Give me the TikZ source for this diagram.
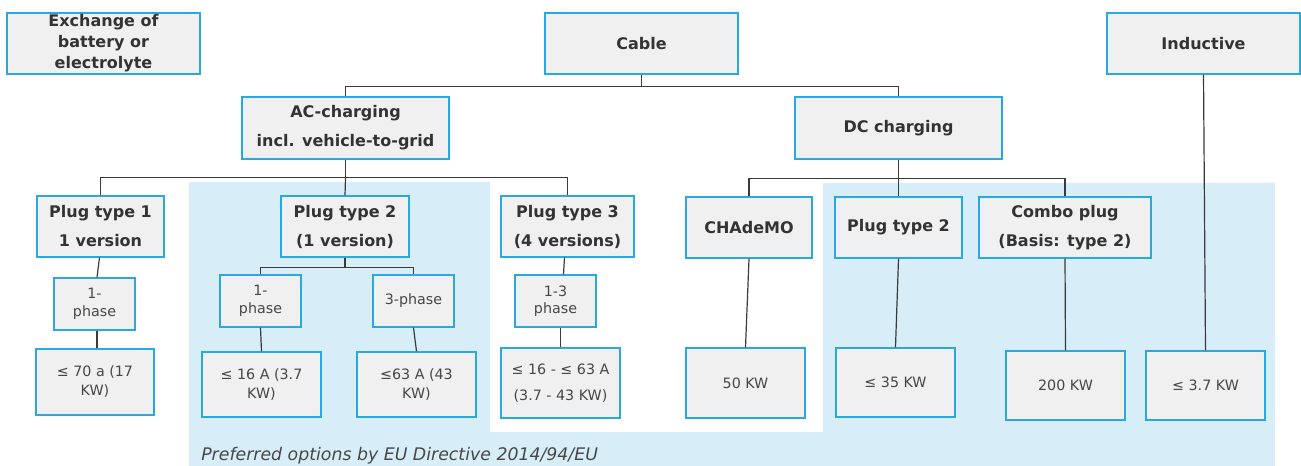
\documentclass[tikz,border=0pt]{standalone}
\usepackage{fontspec}
\setmainfont{DejaVu Sans}
\usetikzlibrary{calc}
\definecolor{boxblue}{HTML}{29A9E0}
\definecolor{boxfill}{HTML}{F0F0F0}
\definecolor{zone}{HTML}{D7EEF8}
\definecolor{ink}{HTML}{333333}
\definecolor{inksoft}{HTML}{474747}
\definecolor{wirecol}{HTML}{3A3A3A}

% box given by its corners (x1,y1) (x2,y2) in pixel units
\newcommand\mkbox[7]{%
  \pgfmathsetmacro\cx{(#3+#5)/2}\pgfmathsetmacro\cy{(#4+#6)/2}%
  \pgfmathsetmacro\bw{(#5-#3)*0.75}\pgfmathsetmacro\bh{(#6-#4)*0.75}%
  \node[#1, minimum width=\bw pt, minimum height=\bh pt] (#2) at (\cx,\cy) {#7};}

\begin{document}
\begin{tikzpicture}[x=0.75pt,y=-0.75pt,
  cell/.style={draw=boxblue, fill=boxfill, line width=1pt, inner sep=0pt, align=center},
  hd/.style={cell, text=ink, font=\bfseries\fontsize{12}{21.75}\selectfont},
  val/.style={cell, text=inksoft, font=\fontsize{10.7}{14.25}\selectfont},
  wire/.style={draw=wirecol, line width=0.9pt}]
\useasboundingbox (0,0) rectangle (1301,466);

% preferred-options zone
\fill[zone] (189,182) -- (490,182) -- (490,432) -- (823,432) -- (823,183)
  -- (1275,183) -- (1275,466) -- (189,466) -- cycle;

% top level
\mkbox{hd, font=\bfseries\fontsize{12}{15.75}\selectfont}{exch}{7}{13}{200}{74}{Exchange of\\battery or\\electrolyte}
\mkbox{hd}{cable}{545}{13}{738}{74}{Cable}
\mkbox{hd}{induct}{1107}{13}{1300}{74}{Inductive}

% second level
\mkbox{hd}{ac}{242}{97}{449}{159}{AC-charging\\incl. vehicle-to-grid}
\mkbox{hd}{dc}{795}{97}{1002}{159}{DC charging}

% plug types
\mkbox{hd}{pt1}{37}{196}{164}{257}{Plug type 1\\1 version}
\mkbox{hd}{pt2}{281}{196}{409}{257}{Plug type 2\\(1 version)}
\mkbox{hd}{pt3}{501}{196}{634}{257}{Plug type 3\\(4 versions)}
\mkbox{hd}{cha}{686}{197}{812}{258}{CHAdeMO}
\mkbox{hd}{pt2dc}{835}{197}{962}{258}{Plug type 2}
\mkbox{hd}{combo}{979}{197}{1151}{258}{Combo plug\\(Basis: type 2)}

% phases
\mkbox{val, font=\fontsize{10.7}{13.5}\selectfont}{ph1a}{54}{278}{135}{330}{1-\\phase}
\mkbox{val, font=\fontsize{10.7}{13.5}\selectfont}{ph1b}{220}{275}{301}{327}{1-\\phase}
\mkbox{val}{ph3}{373}{275}{454}{327}{3-phase}
\mkbox{val, font=\fontsize{10.7}{12.75}\selectfont}{ph13}{515}{275}{596}{327}{1-3\\phase}

% ratings
\mkbox{val}{r70}{36}{349}{154}{415}{≤ 70 a (17\\KW)}
\mkbox{val}{r16}{202}{352}{321}{417}{≤ 16 A (3.7\\KW)}
\mkbox{val}{r63}{357}{352}{476}{417}{≤63 A (43\\KW)}
\mkbox{val, font=\fontsize{10.7}{20}\selectfont}{r1663}{501}{348}{620}{418}{≤ 16 - ≤ 63 A\\(3.7 - 43 KW)}
\mkbox{val}{r50}{686}{348}{805}{418}{50 KW}
\mkbox{val}{r35}{836}{348}{955}{417}{≤ 35 KW}
\mkbox{val}{r200}{1006}{351}{1125}{420}{200 KW}
\mkbox{val}{r37}{1146}{351}{1265}{420}{≤ 3.7 KW}

% caption of the zone
\node[anchor=base west, inner sep=0pt, text=inksoft,
  font=\itshape\fontsize{13}{15}\selectfont] (note) at (201,460)
  {Preferred options by EU Directive 2014/94/EU};

% tree connectors
\draw[wire] (cable.south) -- ++(0,12) coordinate (cj);
\draw[wire] (ac.north) |- (cj) -| (dc.north);
\draw[wire] (ac.south) -- ++(0,18) coordinate (aj);
\draw[wire] (pt1.north) |- (aj) -| (pt3.north);
\draw[wire] (aj) -- (pt2.north);
\draw[wire] (dc.south) -- ++(0,19) coordinate (dj);
\draw[wire] (cha.north) |- (dj) -| (combo.north);
\draw[wire] (dj) -- (pt2dc.north);
\draw[wire] (pt2.south) -- ++(0,10) coordinate (pj);
\draw[wire] (ph1b.north) |- (pj) -| (ph3.north);

\draw[wire] ($(pt1.south)+(-1,0)$) -- ($(ph1a.north)+(2.5,0)$);
\draw[wire] ($(ph1a.south)+(2.5,0)$) -- ($(r70.north)+(2,0)$);
\draw[wire] (ph1b.south) -- (r16.north);
\draw[wire] (ph3.south) -- (r63.north);
\draw[wire] ($(pt3.south)+(-3,0)$) -- ($(ph13.north)+(8,0)$);
\draw[wire] (ph13.south -| r1663.north) -- (r1663.north);
\draw[wire] (cha.south) -- (r50.north);
\draw[wire] (pt2dc.south) -- (r35.north);
\draw[wire] (combo.south) -- (r200.north);
\draw[wire] (induct.south) -- (r37.north);
\end{tikzpicture}
\end{document}
